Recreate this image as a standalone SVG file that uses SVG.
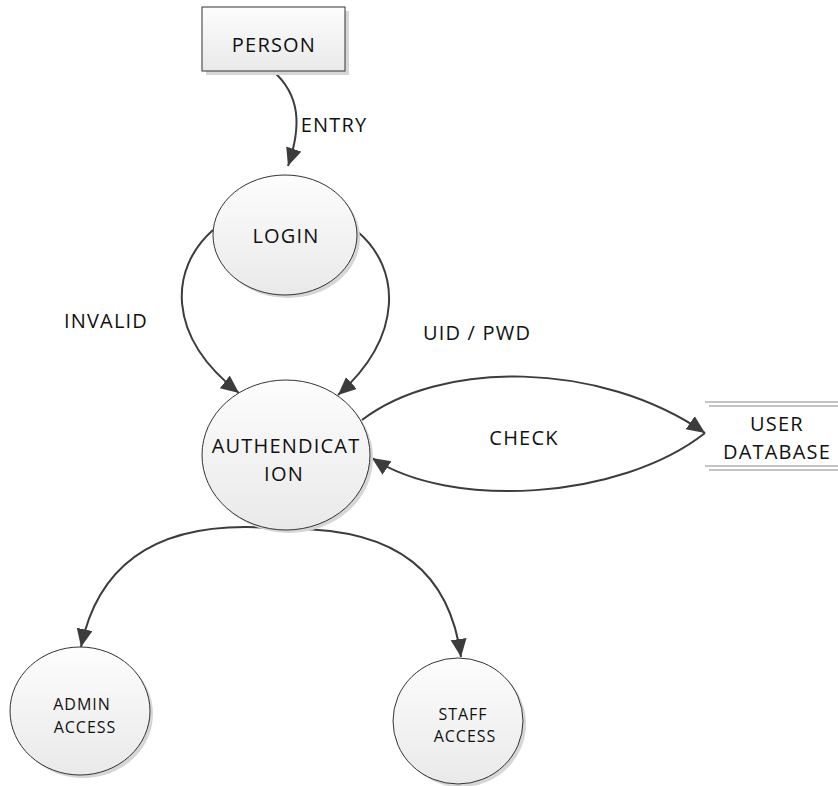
<svg xmlns="http://www.w3.org/2000/svg" width="838" height="786" viewBox="0 0 838 786">
  <defs>
    <linearGradient id="fillGrad" x1="0" y1="0" x2="0" y2="1">
      <stop offset="0" stop-color="#fdfdfd"/>
      <stop offset="1" stop-color="#e9e9e9"/>
    </linearGradient>
    <marker id="arrow" markerUnits="userSpaceOnUse" markerWidth="20" markerHeight="20" refX="18" refY="8" orient="auto">
      <path d="M0,0 L18,8 L0,16 Z" fill="#3c3c3c"/>
    </marker>
  </defs>
  <style>
    .shadow { fill: #d6d6d6; }
    .node { fill: url(#fillGrad); stroke: #333; stroke-width: 1; }
    .label { font-family: "Open Sans", "Liberation Sans", sans-serif; fill: #111; text-anchor: middle; }
    .big { font-size: 20px; letter-spacing: 1.2px; }
    .small { font-size: 16px; letter-spacing: 1px; }
    .flow { fill: none; stroke: #3c3c3c; stroke-width: 2; marker-end: url(#arrow); }
    .store { stroke: #888; stroke-width: 1.2; }
  </style>
  <rect width="838" height="786" fill="#fff"/>

  <!-- connectors -->
  <g id="connectors">
    <path class="flow" d="M273,71 C300,95 302,125 288,166"/>
    <path class="flow" d="M213,230 C170,268 165,335 239,393"/>
    <path class="flow" d="M358,232 C400,268 405,335 338,395"/>
    <path class="flow" d="M362,420 C440,360 600,360 705,433"/>
    <path class="flow" d="M705,433 C620,500 450,510 372,458"/>
    <path class="flow" d="M282,529 C170,518 100,555 81,647"/>
    <path class="flow" d="M290,529 C400,528 450,575 461,657"/>
  </g>

  <g id="person">
    <rect class="shadow" x="206" y="11" width="143" height="64"/>
    <rect class="node" x="202" y="7" width="143" height="64"/>
    <text class="label big" x="274" y="52">PERSON</text>
  </g>

  <g id="login">
    <ellipse class="shadow" cx="288" cy="238" rx="72" ry="60"/>
    <ellipse class="node" cx="285" cy="235" rx="72" ry="60"/>
    <text class="label big" x="286" y="243">LOGIN</text>
  </g>

  <g id="authentication">
    <ellipse class="shadow" cx="289" cy="458" rx="84" ry="75"/>
    <ellipse class="node" cx="286" cy="455" rx="84" ry="75"/>
    <text class="label big" x="286" y="453">AUTHENDICAT</text>
    <text class="label big" x="284" y="481">ION</text>
  </g>

  <g id="user-database">
    <line class="store" x1="705" y1="402" x2="838" y2="402"/>
    <line class="store" x1="709" y1="406" x2="838" y2="406"/>
    <line class="store" x1="705" y1="466" x2="838" y2="466"/>
    <line class="store" x1="709" y1="470" x2="838" y2="470"/>
    <text class="label big" x="777" y="431">USER</text>
    <text class="label big" x="777" y="459">DATABASE</text>
  </g>

  <g id="admin-access">
    <ellipse class="shadow" cx="83" cy="714" rx="70" ry="64"/>
    <ellipse class="node" cx="80" cy="711" rx="70" ry="64"/>
    <text class="label small" x="82" y="710">ADMIN</text>
    <text class="label small" x="85" y="733">ACCESS</text>
  </g>

  <g id="staff-access">
    <ellipse class="shadow" cx="461" cy="724" rx="65" ry="63"/>
    <ellipse class="node" cx="458" cy="721" rx="65" ry="63"/>
    <text class="label small" x="463" y="720">STAFF</text>
    <text class="label small" x="465" y="742">ACCESS</text>
  </g>

  <!-- flow labels -->
  <g id="flow-labels">
    <text class="label big" x="334" y="132">ENTRY</text>
    <text class="label big" x="106" y="328">INVALID</text>
    <text class="label big" x="477" y="340">UID / PWD</text>
    <text class="label big" x="524" y="445">CHECK</text>
  </g>
</svg>
